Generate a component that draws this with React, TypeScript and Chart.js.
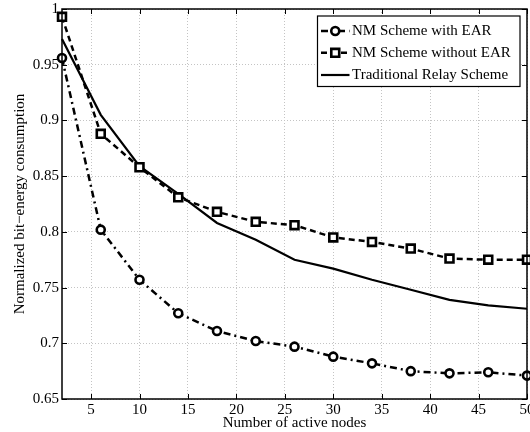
import React, { useEffect, useRef } from 'react';
import { Chart, registerables } from 'chart.js';

Chart.register(...registerables);

const nodes = [2, 6, 10, 14, 18, 22, 26, 30, 34, 38, 42, 46, 50];
const withEAR = [0.956, 0.802, 0.757, 0.727, 0.711, 0.702, 0.697, 0.688, 0.682, 0.675, 0.673, 0.674, 0.671];
const withoutEAR = [0.993, 0.888, 0.858, 0.831, 0.818, 0.809, 0.806, 0.795, 0.791, 0.785, 0.776, 0.775, 0.775];
const traditional = [0.973, 0.905, 0.859, 0.834, 0.808, 0.793, 0.775, 0.767, 0.757, 0.748, 0.739, 0.734, 0.731];
const seriesLabels = ['NM Scheme with EAR', 'NM Scheme without EAR', 'Traditional Relay Scheme'];
const xTicks = [5, 10, 15, 20, 25, 30, 35, 40, 45, 50];
const yTicks = [0.65, 0.7, 0.75, 0.8, 0.85, 0.9, 0.95, 1];
const yTickLabels = ['0.65', '0.7', '0.75', '0.8', '0.85', '0.9', '0.95', '1'];
const xTitle = 'Number of active nodes';
const yTitle = 'Normalized bit\u2212energy consumption';

const FONT = "'Liberation Serif', 'Times New Roman', serif";

const framePlugin = {
  id: 'frameLegend',
  afterDatasetsDraw(chart: any) {
    const { ctx, chartArea, scales } = chart;
    const { left, right, top, bottom } = chartArea;
    const x = scales.x;
    const y = scales.y;
    ctx.save();
    ctx.setLineDash([]);
    ctx.strokeStyle = '#000';
    ctx.lineWidth = 1.5;
    ctx.strokeRect(left, top, right - left, bottom - top);
    ctx.lineWidth = 1;
    const tl = 5;
    ctx.beginPath();
    xTicks.forEach((v) => {
      const px = Math.round(x.getPixelForValue(v)) + 0.5;
      ctx.moveTo(px, bottom);
      ctx.lineTo(px, bottom - tl);
      ctx.moveTo(px, top);
      ctx.lineTo(px, top + tl);
    });
    yTicks.forEach((v) => {
      const py = Math.round(y.getPixelForValue(v)) + 0.5;
      ctx.moveTo(left, py);
      ctx.lineTo(left + tl, py);
      ctx.moveTo(right, py);
      ctx.lineTo(right - tl, py);
    });
    ctx.stroke();

    // legend
    const bx = right - 209.5;
    const by = top + 7;
    const bw = 202.5;
    const bh = 70.5;
    ctx.fillStyle = '#fff';
    ctx.fillRect(bx, by, bw, bh);
    ctx.lineWidth = 1.2;
    ctx.strokeStyle = '#000';
    ctx.strokeRect(bx, by, bw, bh);
    const rows = [by + 15, by + 36.8, by + 59];
    chart.data.datasets.forEach((ds: any, i: number) => {
      const ry = rows[i];
      const x0 = bx + 3.5;
      const x1 = bx + 32;
      ctx.save();
      ctx.strokeStyle = '#000';
      ctx.lineWidth = ds.borderWidth;
      ctx.setLineDash(ds.borderDash || []);
      ctx.beginPath();
      ctx.moveTo(x0, ry);
      ctx.lineTo(x1, ry);
      ctx.stroke();
      ctx.setLineDash([]);
      const cx = (x0 + x1) / 2;
      if (ds.pointStyle === 'circle' && ds.pointRadius > 0) {
        ctx.lineWidth = ds.pointBorderWidth;
        ctx.fillStyle = '#fff';
        ctx.beginPath();
        ctx.arc(cx, ry, ds.pointRadius, 0, Math.PI * 2);
        ctx.fill();
        ctx.stroke();
      } else if (ds.pointStyle === 'rect' && ds.pointRadius > 0) {
        const s = ds.pointRadius * Math.SQRT1_2;
        ctx.lineWidth = ds.pointBorderWidth;
        ctx.fillStyle = '#fff';
        ctx.beginPath();
        ctx.rect(cx - s, ry - s, 2 * s, 2 * s);
        ctx.fill();
        ctx.stroke();
      }
      ctx.fillStyle = '#000';
      ctx.font = `15px ${FONT}`;
      ctx.textBaseline = 'middle';
      ctx.textAlign = 'left';
      ctx.fillText(ds.label, x1 + 2.5, ry + 0.5);
      ctx.restore();
    });
    ctx.restore();
  },
};

export default function App() {
  const ref = useRef<HTMLCanvasElement | null>(null);

  useEffect(() => {
    document.body.style.margin = '0';
    const canvas = ref.current;
    if (!canvas) return;
    const toPts = (vals: number[]) => nodes.map((n, i) => ({ x: n, y: vals[i] }));
    const chart = new Chart(canvas, {
      type: 'line',
      data: {
        datasets: [
          {
            label: seriesLabels[0],
            data: toPts(withEAR),
            borderColor: '#000',
            backgroundColor: '#fff',
            borderWidth: 2.5,
            borderDash: [7, 4, 2, 4],
            pointStyle: 'circle',
            pointRadius: 4,
            pointBorderWidth: 2.6,
            pointBackgroundColor: '#fff',
            pointBorderColor: '#000',
            tension: 0,
            clip: false,
          },
          {
            label: seriesLabels[1],
            data: toPts(withoutEAR),
            borderColor: '#000',
            backgroundColor: '#fff',
            borderWidth: 2.5,
            borderDash: [6, 4],
            pointStyle: 'rect',
            pointRadius: 5.6,
            pointBorderWidth: 2.6,
            pointBackgroundColor: '#fff',
            pointBorderColor: '#000',
            tension: 0,
            clip: false,
          },
          {
            label: seriesLabels[2],
            data: toPts(traditional),
            borderColor: '#000',
            backgroundColor: '#000',
            borderWidth: 2.2,
            borderDash: [],
            pointStyle: 'line',
            pointRadius: 0,
            pointBorderWidth: 0,
            tension: 0,
            clip: false,
          },
        ] as any,
      },
      options: {
        responsive: false,
        animation: false,
        devicePixelRatio: 1,
        layout: { autoPadding: false, padding: { top: 9, right: 3, bottom: 0, left: 0 } },
        plugins: { legend: { display: false }, tooltip: { enabled: false } },
        scales: {
          x: {
            type: 'linear',
            min: 2,
            max: 50,
            afterBuildTicks: (s: any) => {
              s.ticks = xTicks.map((v) => ({ value: v }));
            },
            afterFit: (s: any) => {
              s.height = 33;
              s.paddingLeft = 0;
              s.paddingRight = 0;
            },
            grid: { color: '#c4c4c4', lineWidth: 1, drawTicks: false },
            border: { display: false, dash: [1, 2] },
            ticks: {
              font: { family: FONT, size: 15 },
              color: '#000',
              padding: 2,
              maxRotation: 0,
              autoSkip: false,
              callback: (v: any) => String(v),
            },
            title: {
              display: true,
              text: xTitle,
              font: { family: FONT, size: 15 },
              color: '#000',
              padding: { top: 0, bottom: 0 },
            },
          },
          y: {
            type: 'linear',
            min: 0.65,
            max: 1,
            afterBuildTicks: (s: any) => {
              s.ticks = yTicks.map((v) => ({ value: v }));
            },
            afterFit: (s: any) => {
              s.width = 62;
              s.paddingTop = 0;
              s.paddingBottom = 0;
            },
            grid: { color: '#c4c4c4', lineWidth: 1, drawTicks: false },
            border: { display: false, dash: [1, 2] },
            ticks: {
              font: { family: FONT, size: 15 },
              color: '#000',
              padding: 3,
              autoSkip: false,
              callback: (v: any) => {
                const i = yTicks.findIndex((t) => Math.abs(t - v) < 1e-9);
                return i >= 0 ? yTickLabels[i] : '';
              },
            },
            title: {
              display: true,
              text: yTitle,
              font: { family: FONT, size: 15 },
              color: '#000',
              padding: { top: 11, bottom: 0 },
            },
          },
        },
      } as any,
      plugins: [framePlugin],
    });
    return () => chart.destroy();
  }, []);

  return <canvas ref={ref} width={530} height={432} style={{ display: 'block' }} />;
}
